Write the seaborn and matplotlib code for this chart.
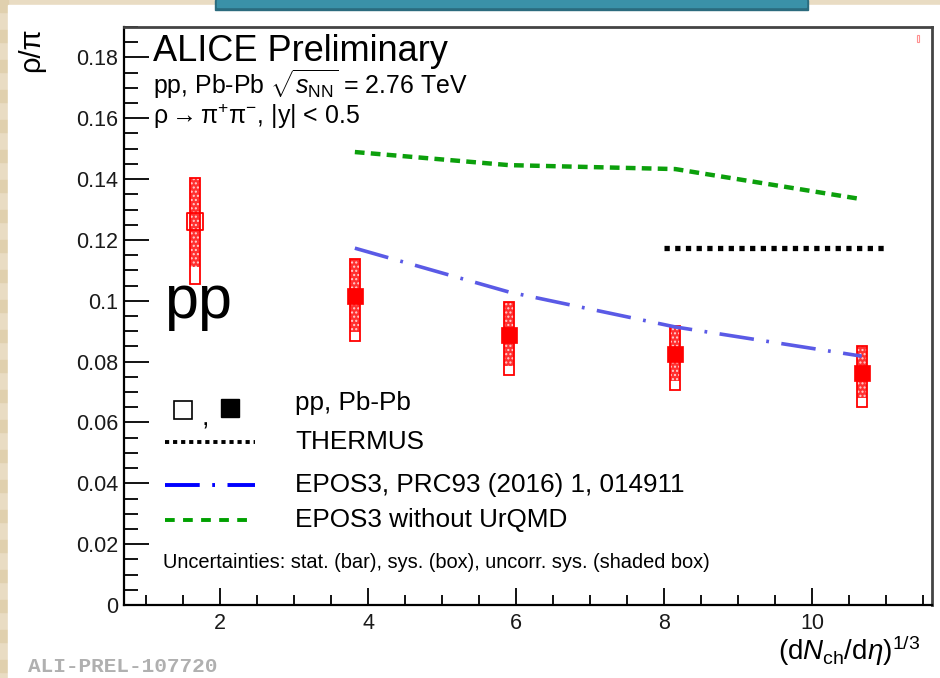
import numpy as np
import pandas as pd
import seaborn as sns
import matplotlib.pyplot as plt
from matplotlib.lines import Line2D
from matplotlib.patches import Rectangle
from matplotlib.ticker import MultipleLocator, FormatStrFormatter

# pp point
pp_x = [1.66]
pp_y = [0.126]
pp_box_lo = [0.1054]
pp_box_hi = [0.1405]
pp_unc_lo = [0.1110]
pp_unc_hi = [0.1405]

# Pb-Pb points
pb_x = [3.82, 5.90, 8.15, 10.67]
pb_y = [0.1015, 0.0886, 0.0824, 0.0761]
pb_box_lo = [0.0867, 0.0755, 0.0708, 0.0652]
pb_box_hi = [0.1137, 0.0995, 0.0916, 0.0850]
pb_unc_lo = [0.0896, 0.0784, 0.0735, 0.0682]
pb_unc_hi = [0.1137, 0.0995, 0.0916, 0.0850]
pb_stat = [0.0020, 0.0018, 0.0017, 0.0016]

# models
epos_x = [3.82, 5.90, 8.15, 10.67]
epos_y = [0.1173, 0.1029, 0.0914, 0.0818]
epos_noq_y = [0.1489, 0.1446, 0.1433, 0.1334]
thermus_x = [8.0, 11.0]
thermus_y = [0.1173, 0.1173]

sns.set_style('ticks')
plt.rcParams['font.family'] = ['Liberation Sans', 'DejaVu Sans']
plt.rcParams['mathtext.fontset'] = 'custom'
plt.rcParams['mathtext.rm'] = 'Liberation Sans'
plt.rcParams['mathtext.it'] = 'Liberation Sans:italic'
plt.rcParams['mathtext.bf'] = 'Liberation Sans:bold'
plt.rcParams['lines.scale_dashes'] = False
plt.rcParams['hatch.linewidth'] = 1.0
plt.rcParams['text.color'] = 'black'
plt.rcParams['axes.labelcolor'] = 'black'

fig = plt.figure(figsize=(9.4, 6.78), dpi=100)
fig.patch.set_facecolor('#e9dcc3')
W, H = 940, 678

# page background: striped beige border, white panel, teal header
for yy in range(0, H, 30):
    fig.patches.append(Rectangle((0, 1 - (yy + 12) / H), 8 / W, 12 / H, transform=fig.transFigure,
                                 color='#e0d0ae', zorder=-3))
fig.patches.append(Rectangle((8 / W, 0), 1, 1 - 5 / H, transform=fig.transFigure,
                             color='white', zorder=-2))
fig.patches.append(Rectangle((215 / W, 1 - 10 / H), 593 / W, 10 / H, transform=fig.transFigure,
                             color='#2b6b7e', zorder=-1))
fig.patches.append(Rectangle((217 / W, 1 - 7 / H), 589 / W, 7 / H, transform=fig.transFigure,
                             color='#3a91a8', zorder=-1))

ax = fig.add_axes([124 / W, 1 - 605 / H, 808 / W, 578 / H])
ax.set_facecolor('white')

red = '#ff0000'
w = 0.14

# uncorrelated sys (shaded boxes)
ax.bar(pp_x + pb_x,
       np.subtract(pp_unc_hi + pb_unc_hi, pp_unc_lo + pb_unc_lo),
       bottom=pp_unc_lo + pb_unc_lo, width=w, facecolor='#ff3030',
       edgecolor='#ffd0d0', hatch='....', linewidth=0, zorder=2)
# sys (open boxes)
ax.bar(pp_x + pb_x,
       np.subtract(pp_box_hi + pb_box_hi, pp_box_lo + pb_box_lo),
       bottom=pp_box_lo + pb_box_lo, width=w, fill=False,
       edgecolor=red, linewidth=1.3, zorder=3)
# stat bars
ax.errorbar(pb_x, pb_y, yerr=pb_stat, fmt='none', ecolor=red, elinewidth=1.2, zorder=4)

df_pp = pd.DataFrame({'x': pp_x, 'y': pp_y})
df_pb = pd.DataFrame({'x': pb_x, 'y': pb_y})
sns.scatterplot(data=df_pp, x='x', y='y', marker='s', s=140, facecolor='none',
                edgecolor=red, linewidth=1.3, ax=ax, zorder=5)
sns.scatterplot(data=df_pb, x='x', y='y', marker='s', s=130, color=red,
                edgecolor=red, linewidth=0.5, ax=ax, zorder=5)

# models
sns.lineplot(x=epos_x, y=epos_noq_y, color='#0ca00c', lw=3.2, ax=ax, zorder=3)
ax.lines[-1].set_dashes((7, 4.5))
ax.lines[-1].set_dash_capstyle('butt')
sns.lineplot(x=epos_x, y=epos_y, color='#5a5ae6', lw=2.6, ax=ax, zorder=3)
ax.lines[-1].set_dashes((25, 9, 2, 9))
sns.lineplot(x=thermus_x, y=thermus_y, color='black', lw=3.8, ax=ax, zorder=3)
ax.lines[-1].set_dashes((3.8, 3.9))
ax.lines[-1].set_dash_capstyle('butt')

# stray marker top right
ax.add_patch(Rectangle((11.42, 0.1850), 0.02, 0.0025, fill=False, edgecolor='#ff9090', lw=0.8))

ax.set_xlim(0.70, 11.62)
ax.set_ylim(0, 0.19)
ax.xaxis.set_major_locator(MultipleLocator(2))
ax.xaxis.set_minor_locator(MultipleLocator(0.5))
ax.yaxis.set_major_locator(MultipleLocator(0.02))
ax.yaxis.set_minor_locator(MultipleLocator(0.005))
ax.yaxis.set_major_formatter(FormatStrFormatter('%g'))
ax.xaxis.set_major_formatter(FormatStrFormatter('%g'))
ax.tick_params(axis='both', which='both', direction='in', top=False, right=False,
               labelsize=15.5, colors='black', labelcolor='#1a1a1a', width=1.3)
ax.tick_params(axis='y', which='major', length=18, pad=4)
ax.tick_params(axis='y', which='minor', length=10)
ax.tick_params(axis='x', which='major', length=12, pad=6)
ax.tick_params(axis='x', which='minor', length=7)
for s in ['top', 'right']:
    ax.spines[s].set_color('#444444')
    ax.spines[s].set_linewidth(2.0)
for s in ['left', 'bottom']:
    ax.spines[s].set_color('black')
    ax.spines[s].set_linewidth(1.6)

ax.set_ylabel('ρ/π', fontsize=21, loc='top')
ax.yaxis.set_label_coords(-0.098, 1.0)
ax.set_xlabel(r'$(\mathrm{d}N_{\rm ch}/\mathrm{d}\eta)^{1/3}$', fontsize=20, loc='right')
ax.xaxis.set_label_coords(0.985, -0.05)
ax.xaxis.label.set_va('top')

# header texts
ax.text(0.036, 0.957, 'ALICE Preliminary', transform=ax.transAxes, fontsize=26, va='center')
ax.text(0.036, 0.901, r'pp, Pb-Pb $\sqrt{s_{\rm NN}}$ = 2.76 TeV', transform=ax.transAxes,
        fontsize=17.9, va='center')
ax.text(0.036, 0.845, r'ρ$\rightarrow$π$^{+}$π$^{-}$, |y| < 0.5', transform=ax.transAxes,
        fontsize=17.9, va='center')
ax.text(0.050, 0.497, 'pp', transform=ax.transAxes, fontsize=44, va='baseline')

# legend (drawn by hand, ROOT-style)
lx0, lx1, tx = 0.0507, 0.162, 0.2116
ax.add_line(Line2D([0.073], [0.337], transform=ax.transAxes, marker='s', ms=13.5,
                   mfc='white', mec='black', mew=1.2, ls='none'))
ax.add_line(Line2D([0.131], [0.341], transform=ax.transAxes, marker='s', ms=13.5,
                   mfc='black', mec='black', ls='none'))
ax.text(0.101, 0.322, ',', transform=ax.transAxes, fontsize=19, va='center', ha='center')
l = Line2D([lx0, lx1], [0.282, 0.282], transform=ax.transAxes, color='black', lw=2.8,
           solid_capstyle='butt', dash_capstyle='butt')
l.set_dashes((3, 2.8))
ax.add_line(l)
l = Line2D([lx0, lx1], [0.2076, 0.2076], transform=ax.transAxes, color='#0000ff', lw=2.8,
           dash_capstyle='butt')
l.set_dashes((25, 9, 2, 9))
ax.add_line(l)
l = Line2D([lx0, lx1], [0.147, 0.147], transform=ax.transAxes, color='#00a000', lw=2.8,
           dash_capstyle='butt')
l.set_dashes((7, 6))
ax.add_line(l)
ax.text(tx, 0.349, 'pp, Pb-Pb', transform=ax.transAxes, fontsize=18.8, va='center')
ax.text(tx, 0.282, 'THERMUS', transform=ax.transAxes, fontsize=18.8, va='center')
ax.text(tx, 0.2076, 'EPOS3, PRC93 (2016) 1, 014911', transform=ax.transAxes, fontsize=18.8,
        va='center')
ax.text(tx, 0.147, 'EPOS3 without UrQMD', transform=ax.transAxes, fontsize=18.8, va='center')
ax.text(0.048, 0.073, 'Uncertainties: stat. (bar), sys. (box), uncorr. sys. (shaded box)',
        transform=ax.transAxes, fontsize=14.45, va='center')

fig.text(28 / W, 1 - 666 / H, 'ALI-PREL-107720', family='Liberation Mono', fontweight='bold',
         color='#b0b0b0', fontsize=15.2, va='center')

fig.savefig('out.png', dpi=100, facecolor=fig.get_facecolor())
